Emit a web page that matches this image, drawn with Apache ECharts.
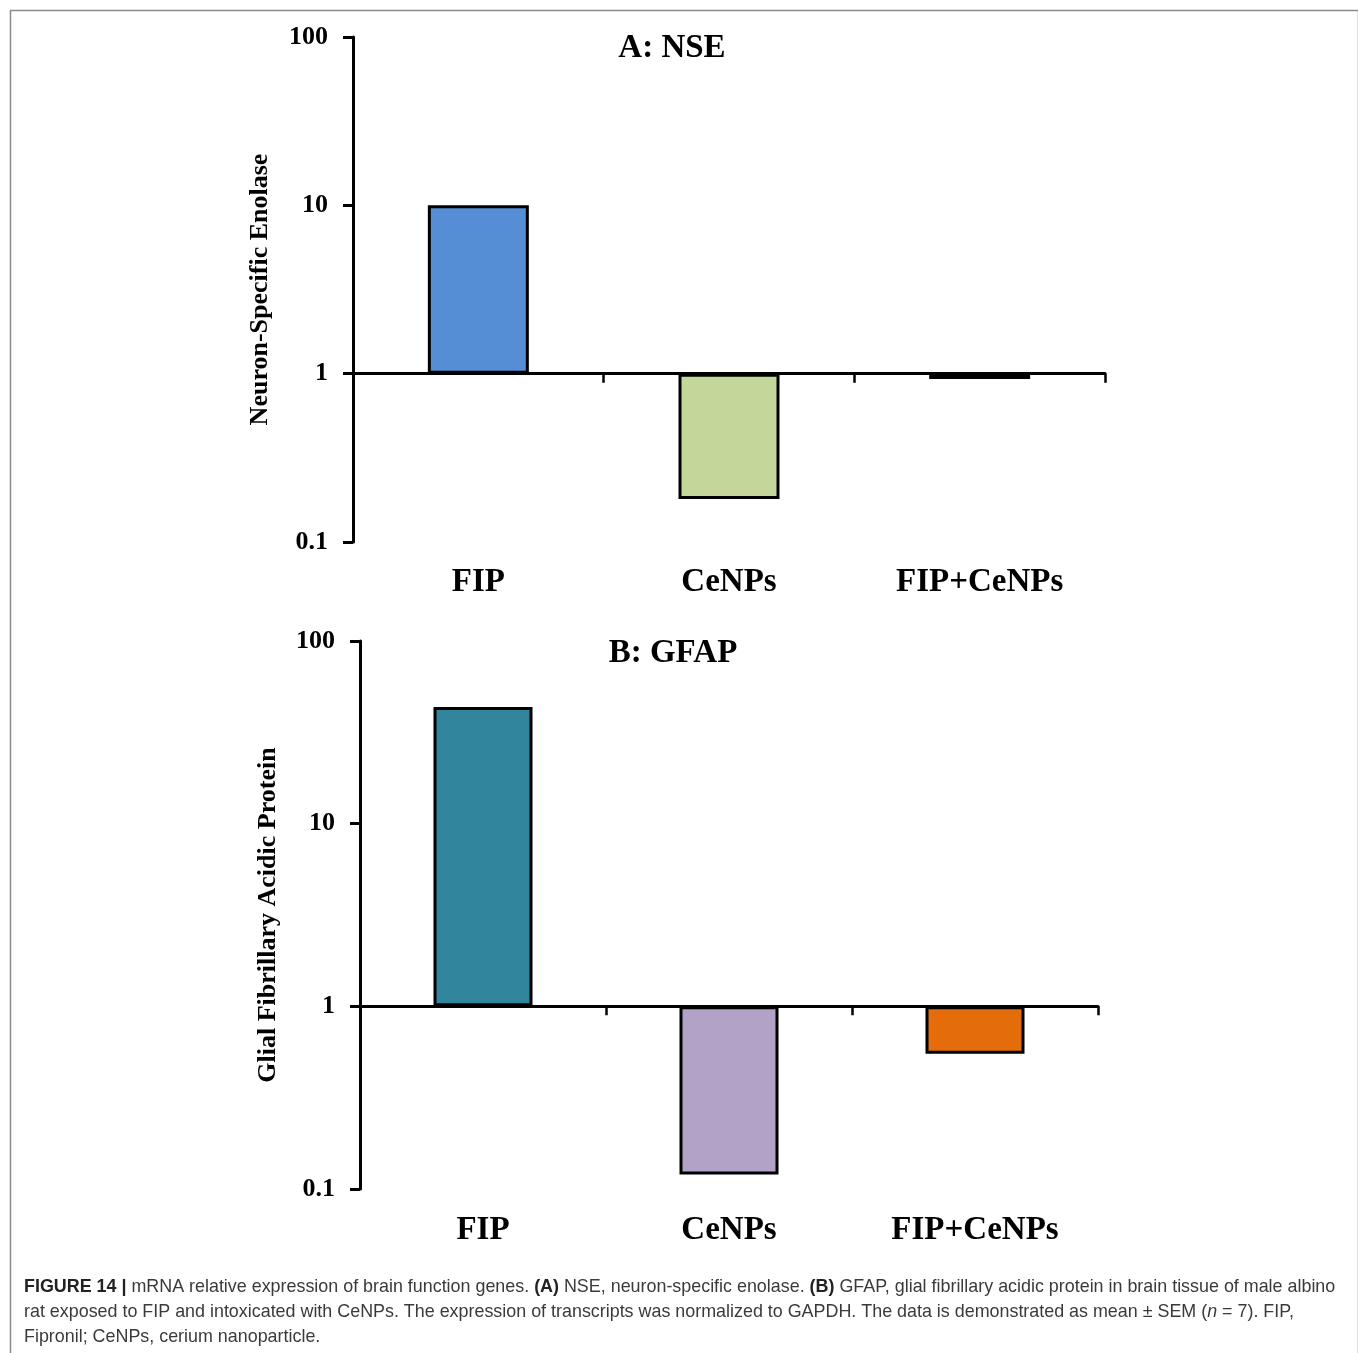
<!DOCTYPE html>
<html>
<head>
<meta charset="utf-8">
<script src="https://cdn.jsdelivr.net/npm/echarts@6/dist/echarts.min.js"></script>
<style>
html,body{margin:0;padding:0;background:#fff;}
#chart{width:1358px;height:1353px;}
</style>
</head>
<body>
<div id="chart"></div>
<script>
// ---- data ----
const categories = ['FIP', 'CeNPs', 'FIP+CeNPs'];
const nseValues = [10, 0.18, 0.93];
const gfapValues = [43.5, 0.12, 0.55];
const nseColors = ['#558ED5', '#C4D79B', '#E9A77F'];
const gfapColors = ['#31859C', '#B3A2C7', '#E46C0A'];
const yTickValues = [0.1, 1, 10, 100];
const yTickLabels = ['0.1', '1', '10', '100'];
const titleA = 'A: NSE';
const titleB = 'B: GFAP';
const yNameA = 'Neuron-Specific Enolase';
const yNameB = 'Glial Fibrillary Acidic Protein';

const serif = '"Liberation Serif", "Times New Roman", serif';
const sans = '"Liberation Sans", Arial, sans-serif';
const logMin = Math.log10(yTickValues[0]);
const logMax = Math.log10(yTickValues[yTickValues.length - 1]);

function tickLabel(v) {
  for (let i = 0; i < yTickValues.length; i++) {
    if (Math.abs(Math.log10(yTickValues[i]) - v) < 1e-6) return yTickLabels[i];
  }
  return '';
}

function toBars(values, colors) {
  return values.map((v, i) => ({
    value: Math.log10(v),
    itemStyle: { color: colors[i] }
  }));
}

function zeroXAxis(gridIndex) {
  return {
    type: 'category', gridIndex: gridIndex, data: categories, position: 'bottom',
    axisLine: { onZero: true, lineStyle: { color: '#000', width: 3 } },
    axisTick: { show: true, length: 9, lineStyle: { color: '#000', width: 2.5 } },
    axisLabel: { show: false },
    splitLine: { show: false }
  };
}
function labelXAxis(gridIndex, margin) {
  return {
    type: 'category', gridIndex: gridIndex, data: categories, position: 'bottom',
    axisLine: { show: false, onZero: false },
    axisTick: { show: false },
    axisLabel: { show: true, margin: margin, color: '#000', fontFamily: serif, fontWeight: 'bold', fontSize: 33 },
    splitLine: { show: false }
  };
}
function yAxis(gridIndex, name, nameGap) {
  return {
    type: 'value', gridIndex: gridIndex, min: logMin, max: logMax, interval: 1,
    name: name, nameLocation: 'middle', nameGap: nameGap, nameRotate: 90,
    nameTextStyle: { color: '#000', fontFamily: serif, fontWeight: 'bold', fontSize: 26 },
    axisLine: { show: true, lineStyle: { color: '#000', width: 3 } },
    axisTick: { show: true, length: 10, lineStyle: { color: '#000', width: 3 } },
    axisLabel: { margin: 25, color: '#000', fontFamily: serif, fontWeight: 'bold', fontSize: 26, formatter: tickLabel },
    splitLine: { show: false }
  };
}

const chart = echarts.init(document.getElementById('chart'), null, { renderer: 'canvas' });
chart.setOption({
  backgroundColor: '#fff',
  animation: false,
  title: [
    { text: titleA, left: 672, top: 32, textAlign: 'center', padding: 0,
      textStyle: { color: '#000', fontFamily: serif, fontWeight: 'bold', fontSize: 33 } },
    { text: titleB, left: 673, top: 637, textAlign: 'center', padding: 0,
      textStyle: { color: '#000', fontFamily: serif, fontWeight: 'bold', fontSize: 33 } }
  ],
  grid: [
    { left: 353, top: 37, width: 752, height: 505, containLabel: false },
    { left: 360, top: 641, width: 738, height: 548, containLabel: false }
  ],
  xAxis: [zeroXAxis(0), labelXAxis(0, 24), zeroXAxis(1), labelXAxis(1, 25)],
  yAxis: [yAxis(0, yNameA, 80), yAxis(1, yNameB, 79)],
  series: [
    { type: 'bar', xAxisIndex: 0, yAxisIndex: 0, barWidth: 101, data: toBars(nseValues, nseColors),
      itemStyle: { borderColor: '#000', borderWidth: 3 } },
    { type: 'bar', xAxisIndex: 2, yAxisIndex: 1, barWidth: 99, data: toBars(gfapValues, gfapColors),
      itemStyle: { borderColor: '#000', borderWidth: 3 } }
  ],
  graphic: [
    { type: 'rect', left: 8, top: 8, z: -10, silent: true,
      shape: { width: 1348, height: 1360 },
      style: { fill: 'none', stroke: '#8a8a8a', lineWidth: 1.5 } },
    { type: 'text', left: 24, top: 1275, silent: true,
      style: {
        text: '{b|FIGURE 14 |} mRNA relative expression of brain function genes. {b|(A)} NSE, neuron-specific enolase. {b|(B)} GFAP, glial fibrillary acidic protein in brain tissue of male albino\n' +
              'rat exposed to FIP and intoxicated with CeNPs. The expression of transcripts was normalized to GAPDH. The data is demonstrated as mean \u00b1 SEM ({i|n} = 7). FIP,\n' +
              'Fipronil; CeNPs, cerium nanoparticle.',
        fontFamily: sans, fontSize: 17.9, fill: '#3a3a3a', lineHeight: 25,
        rich: {
          b: { fontFamily: sans, fontSize: 17.9, fontWeight: 'bold', fill: '#222', lineHeight: 25 },
          i: { fontFamily: sans, fontSize: 17.9, fontStyle: 'italic', fill: '#3a3a3a', lineHeight: 25 }
        }
      } }
  ]
});
</script>
</body>
</html>
